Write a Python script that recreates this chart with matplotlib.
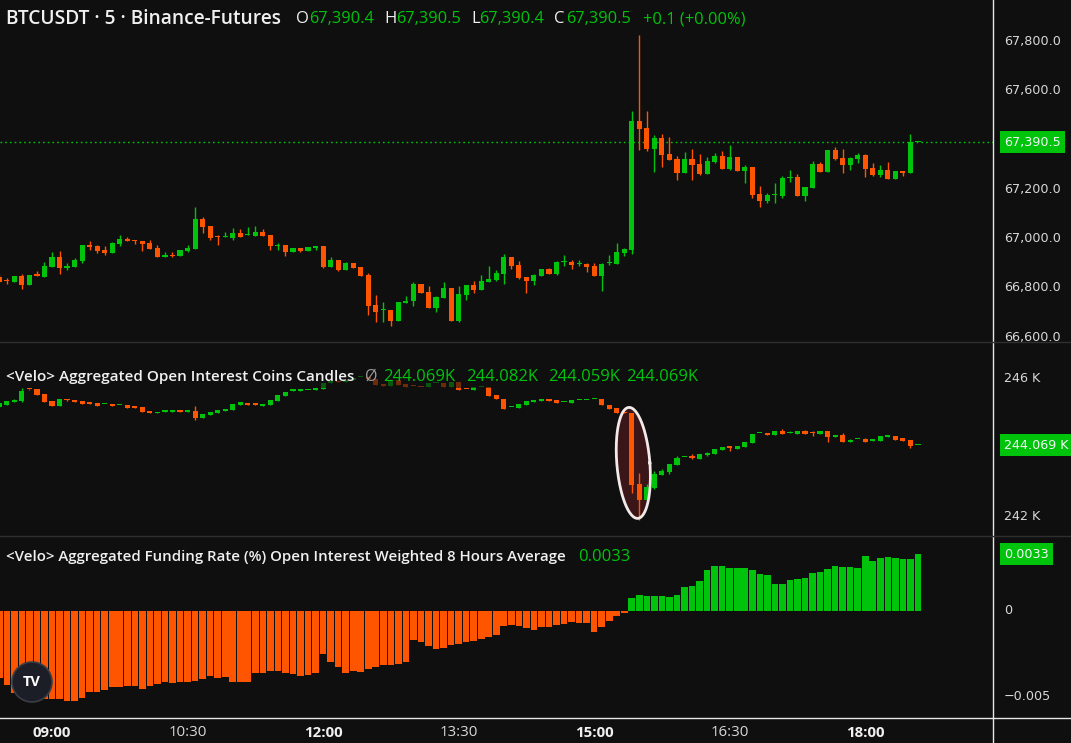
import matplotlib
matplotlib.use('Agg')
import matplotlib.pyplot as plt
import matplotlib.transforms as mtransforms
from matplotlib.patches import Rectangle, Ellipse, Polygon
from matplotlib.lines import Line2D
import numpy as np

# 5-minute bars, first bar at 08:25
bar_start = "08:25"

price_open = [66842, 66831, 66824, 66847, 66812, 66851, 66845, 66885, 66924, 66881, 66885, 66910, 66973, 66969,
              66953, 66942, 66978, 66997, 66993, 66989, 66981, 66961, 66926, 66931, 66930, 66950, 66958, 67078,
              67050, 67007, 67004, 67003, 67022, 67012, 67010, 67026, 67014, 66970, 66973, 66945, 66961, 66950,
              66962, 66969, 66885, 66912, 66873, 66900, 66884, 66851, 66730, 66708, 66709, 66666, 66739, 66746,
              66815, 66782, 66719, 66760, 66799, 66666, 66770, 66811, 66791, 66823, 66831, 66855, 66924, 66892,
              66843, 66827, 66847, 66876, 66855, 66903, 66904, 66895, 66896, 66888, 66847, 66899, 66896, 66941,
              66953, 67476, 67447, 67362, 67407, 67342, 67322, 67265, 67322, 67301, 67261, 67309, 67334, 67281,
              67330, 67273, 67289, 67180, 67151, 67175, 67172, 67244, 67249, 67172, 67204, 67301, 67269, 67358,
              67326, 67297, 67322, 67338, 67285, 67257, 67277, 67241, 67273, 67265, 67390.4]
price_high = [66851, 66839, 66847, 66855, 66851, 66868, 66904, 66945, 66949, 66899, 66920, 66973, 66989, 66973,
              66969, 66985, 67014, 67005, 66993, 66989, 66993, 66973, 66945, 66945, 66953, 66973, 67127, 67087,
              67050, 67014, 67027, 67042, 67038, 67046, 67050, 67038, 67014, 66981, 66973, 66961, 66961, 66965,
              66969, 66969, 66924, 66912, 66904, 66900, 66884, 66859, 66770, 66742, 66709, 66742, 66766, 66823,
              66815, 66807, 66766, 66823, 66799, 66807, 66811, 66827, 66851, 66888, 66872, 66936, 66924, 66908,
              66843, 66855, 66876, 66880, 66908, 66932, 66912, 66912, 66900, 66900, 66900, 66932, 66981, 66961,
              67516, 67824, 67516, 67419, 67423, 67411, 67334, 67350, 67362, 67342, 67330, 67346, 67354, 67378,
              67330, 67297, 67289, 67212, 67184, 67224, 67253, 67277, 67261, 67208, 67314, 67309, 67358, 67370,
              67362, 67330, 67346, 67342, 67305, 67297, 67309, 67273, 67273, 67423, 67390.5]
price_low = [66824, 66815, 66824, 66796, 66812, 66848, 66845, 66885, 66857, 66873, 66885, 66902, 66953, 66942,
             66931, 66942, 66970, 66990, 66978, 66950, 66958, 66926, 66926, 66926, 66930, 66945, 66958, 67022,
             66995, 66974, 67004, 66995, 67007, 67012, 67010, 67010, 66954, 66954, 66929, 66945, 66945, 66950,
             66954, 66881, 66885, 66869, 66873, 66881, 66849, 66690, 66662, 66662, 66646, 66666, 66739, 66726,
             66780, 66719, 66703, 66760, 66666, 66662, 66750, 66778, 66791, 66823, 66827, 66815, 66876, 66835,
             66778, 66811, 66847, 66855, 66851, 66888, 66876, 66888, 66864, 66847, 66786, 66892, 66896, 66929,
             66937, 67358, 67354, 67269, 67289, 67318, 67236, 67265, 67236, 67257, 67261, 67305, 67281, 67277,
             67273, 67224, 67164, 67127, 67143, 67143, 67164, 67228, 67172, 67151, 67204, 67269, 67269, 67318,
             67265, 67277, 67305, 67249, 67253, 67249, 67241, 67241, 67253, 67265, 67390.4]
price_close = [66824, 66828, 66847, 66812, 66851, 66849, 66888, 66924, 66881, 66888, 66912, 66973, 66965, 66950,
               66942, 66981, 66997, 66990, 66990, 66978, 66958, 66926, 66932, 66928, 66953, 66962, 67078, 67047,
               67003, 67005, 67006, 67022, 67007, 67014, 67026, 67010, 66967, 66971, 66945, 66961, 66950, 66965,
               66969, 66885, 66912, 66873, 66900, 66881, 66849, 66726, 66703, 66710, 66666, 66742, 66746, 66815,
               66780, 66719, 66762, 66799, 66666, 66774, 66811, 66791, 66827, 66835, 66859, 66924, 66888, 66839,
               66827, 66851, 66876, 66855, 66904, 66905, 66892, 66897, 66884, 66847, 66896, 66901, 66945, 66957,
               67476, 67443, 67362, 67407, 67338, 67318, 67265, 67322, 67297, 67261, 67314, 67334, 67281, 67330,
               67273, 67289, 67176, 67151, 67176, 67177, 67245, 67246, 67172, 67208, 67301, 67269, 67358, 67322,
               67297, 67326, 67338, 67281, 67257, 67277, 67241, 67273, 67265, 67390.4, 67390.5]

oi_open = [245.17, 245.25, 245.34, 245.37, 245.71, 245.71, 245.56, 245.36, 245.22, 245.41, 245.39, 245.36, 245.31,
           245.30, 245.26, 245.28, 245.24, 245.25, 245.19, 245.19, 245.07, 245.01, 245.05, 245.05, 245.06, 245.05,
           245.06, 244.87, 244.96, 245.02, 245.07, 245.10, 245.25, 245.31, 245.27, 245.22, 245.25, 245.37, 245.51,
           245.66, 245.66, 245.68, 245.69, 245.70, 245.89, 245.93, 245.90, 245.96, 246.06, 246.07, 245.99, 245.85,
           245.80, 245.97, 245.85, 245.80, 245.78, 245.77, 245.87, 245.89, 245.76, 245.90, 245.71, 245.67, 245.76,
           245.77, 245.53, 245.42, 245.17, 245.16, 245.23, 245.34, 245.36, 245.42, 245.39, 245.33, 245.31, 245.38,
           245.39, 245.41, 245.43, 245.25, 245.16, 245.03, 245.02, 242.93, 242.47, 242.83, 243.20, 243.29, 243.49,
           243.71, 243.71, 243.66, 243.78, 243.81, 243.93, 244.02, 243.96, 244.02, 244.13, 244.41, 244.42, 244.37,
           244.48, 244.42, 244.39, 244.48, 244.43, 244.39, 244.48, 244.31, 244.37, 244.16, 244.24, 244.25, 244.20,
           244.19, 244.32, 244.34, 244.27, 244.22, 244.069]
oi_high = [245.29, 245.36, 245.43, 245.74, 245.72, 245.71, 245.56, 245.36, 245.42, 245.41, 245.39, 245.36, 245.31,
           245.30, 245.27, 245.28, 245.25, 245.25, 245.19, 245.19, 245.07, 245.03, 245.06, 245.06, 245.06, 245.06,
           245.22, 244.99, 245.05, 245.10, 245.13, 245.28, 245.32, 245.31, 245.27, 245.28, 245.40, 245.54, 245.63,
           245.67, 245.67, 245.69, 245.70, 245.89, 245.93, 245.93, 245.96, 246.04, 246.07, 246.07, 245.99, 245.85,
           245.97, 245.97, 245.85, 245.80, 245.78, 245.87, 245.88, 245.89, 245.90, 245.90, 245.71, 245.76, 245.77,
           245.77, 245.53, 245.42, 245.18, 245.27, 245.36, 245.39, 245.41, 245.42, 245.39, 245.34, 245.39, 245.39,
           245.40, 245.42, 245.43, 245.25, 245.16, 245.03, 245.02, 243.26, 242.93, 243.31, 243.37, 243.52, 243.75,
           243.72, 243.81, 243.81, 243.88, 243.96, 244.02, 244.02, 244.04, 244.16, 244.39, 244.42, 244.42, 244.48,
           244.54, 244.48, 244.48, 244.51, 244.48, 244.48, 244.48, 244.37, 244.42, 244.25, 244.25, 244.28, 244.21,
           244.34, 244.33, 244.34, 244.27, 244.22, 244.082]
oi_low = [245.17, 245.25, 245.34, 245.34, 245.69, 245.54, 245.34, 245.22, 245.22, 245.36, 245.33, 245.28, 245.28,
          245.22, 245.26, 245.22, 245.24, 245.16, 245.16, 245.05, 245.02, 245.01, 245.05, 245.05, 245.05, 245.05,
          244.81, 244.87, 244.96, 245.02, 245.07, 245.10, 245.25, 245.25, 245.25, 245.22, 245.25, 245.37, 245.51,
          245.66, 245.66, 245.68, 245.69, 245.70, 245.89, 245.90, 245.90, 245.96, 246.06, 246.00, 245.83, 245.80,
          245.80, 245.83, 245.76, 245.79, 245.77, 245.77, 245.87, 245.76, 245.76, 245.68, 245.70, 245.67, 245.76,
          245.51, 245.41, 245.13, 245.17, 245.16, 245.23, 245.34, 245.36, 245.37, 245.31, 245.33, 245.31, 245.38,
          245.39, 245.41, 245.23, 245.13, 245.01, 245.00, 242.68, 241.88, 242.47, 242.80, 243.20, 243.24, 243.49,
          243.71, 243.66, 243.66, 243.75, 243.81, 243.93, 243.90, 243.96, 244.02, 244.13, 244.41, 244.37, 244.37,
          244.39, 244.42, 244.39, 244.39, 244.34, 244.39, 244.16, 244.31, 244.16, 244.16, 244.24, 244.16, 244.20,
          244.19, 244.32, 244.22, 244.19, 243.99, 244.059]
oi_close = [245.29, 245.36, 245.40, 245.66, 245.70, 245.54, 245.34, 245.22, 245.42, 245.39, 245.33, 245.28, 245.28,
            245.22, 245.27, 245.22, 245.25, 245.16, 245.16, 245.05, 245.02, 245.03, 245.06, 245.06, 245.05, 245.06,
            244.87, 244.99, 245.05, 245.10, 245.13, 245.28, 245.32, 245.25, 245.25, 245.28, 245.40, 245.54, 245.63,
            245.67, 245.67, 245.69, 245.70, 245.89, 245.93, 245.90, 245.96, 246.04, 246.07, 246.00, 245.83, 245.80,
            245.97, 245.83, 245.76, 245.79, 245.77, 245.87, 245.88, 245.76, 245.90, 245.68, 245.70, 245.76, 245.77,
            245.51, 245.41, 245.13, 245.18, 245.27, 245.36, 245.39, 245.41, 245.37, 245.31, 245.34, 245.39, 245.39,
            245.40, 245.42, 245.23, 245.13, 245.01, 245.00, 242.91, 242.47, 242.84, 243.23, 243.31, 243.52, 243.69,
            243.72, 243.70, 243.81, 243.85, 243.96, 244.02, 243.99, 244.04, 244.16, 244.39, 244.42, 244.37, 244.48,
            244.39, 244.43, 244.48, 244.39, 244.42, 244.48, 244.31, 244.37, 244.16, 244.22, 244.25, 244.16, 244.21,
            244.34, 244.33, 244.22, 244.19, 244.04, 244.069]

funding = [-0.00391, -0.00430, -0.00475, -0.00488, -0.00503, -0.00513, -0.00513, -0.00513, -0.00513, -0.00522,
           -0.00522, -0.00504, -0.00471, -0.00471, -0.00459, -0.00440, -0.00440, -0.00434, -0.00434, -0.00452,
           -0.00434, -0.00426, -0.00415, -0.00419, -0.00411, -0.00415, -0.00407, -0.00397, -0.00376, -0.00388,
           -0.00386, -0.00411, -0.00411, -0.00415, -0.00359, -0.00359, -0.00347, -0.00347, -0.00359, -0.00365,
           -0.00376, -0.00370, -0.00359, -0.00248, -0.00295, -0.00324, -0.00359, -0.00347, -0.00353, -0.00336,
           -0.00324, -0.00312, -0.00312, -0.00306, -0.00295, -0.00167, -0.00179, -0.00202, -0.00219, -0.00213,
           -0.00196, -0.00190, -0.00179, -0.00173, -0.00161, -0.00149, -0.00138, -0.00086, -0.00080, -0.00086,
           -0.00097, -0.00109, -0.00091, -0.00091, -0.00080, -0.00074, -0.00062, -0.00068, -0.00068, -0.00120,
           -0.00091, -0.00056, -0.00027, -0.00012, 0.00076, 0.00093, 0.00087, 0.00087, 0.00087, 0.00081,
           0.00093, 0.00140, 0.00145, 0.00174, 0.00238, 0.00262, 0.00262, 0.00250, 0.00250, 0.00250,
           0.00238, 0.00215, 0.00209, 0.00157, 0.00157, 0.00180, 0.00186, 0.00192, 0.00221, 0.00227,
           0.00244, 0.00262, 0.00256, 0.00256, 0.00250, 0.00320, 0.00291, 0.00308, 0.00314, 0.00308,
           0.00302, 0.00302, 0.0033]

time_ticks = ["09:00", "10:30", "12:00", "13:30", "15:00", "16:30", "18:00"]
price_ticks = [66600, 66800, 67000, 67200, 67400, 67600, 67800]
oi_ticks = [242, 246]
funding_ticks = [0, -0.005]

BG = '#0f0f0f'
GREEN = '#00c40c'
ORANGE = '#ff5500'
TXT = '#d8d8d8'
FONT = 'Open Sans'
W, H = 1071, 743

fig = plt.figure(figsize=(W / 100, H / 100), dpi=100, facecolor=BG)


def fx(x):
    return x / W


def fy(y):
    return 1 - y / H


def add_ax(top, bottom):
    ax = fig.add_axes([0, fy(bottom), fx(993), (bottom - top) / H])
    ax.set_facecolor(BG)
    for s in ax.spines.values():
        s.set_visible(False)
    ax.set_xticks([])
    ax.set_yticks([])
    return ax


n = len(price_open)
xs = np.arange(n)
x0 = 7  # index of the 09:00 bar
step_px = 7.53
xlim = (x0 - 52 / step_px, x0 + (993 - 52) / step_px)


def candles(ax, o, h, l, c, min_h):
    o, h, l, c = map(np.asarray, (o, h, l, c))
    up = c >= o
    cols = np.where(up, GREEN, ORANGE)
    bottoms = np.minimum(o, c)
    heights = np.maximum(np.abs(c - o), min_h)
    ax.vlines(xs, l, h, colors=cols, lw=1, zorder=2)
    ax.bar(xs, heights, 0.68, bottom=bottoms, color=cols, linewidth=0, zorder=3)


# ---- price pane
ax1 = add_ax(0, 342)
ax1.set_xlim(*xlim)
ax1.set_ylim(67800 - 4.054 * (342 - 41), 67800 + 4.054 * 41)
candles(ax1, price_open, price_high, price_low, price_close, 5)
ax1.axhline(price_close[-1], color=GREEN, lw=1, ls=(0, (1.2, 2.2)), zorder=1)

# ---- open interest pane
ax2 = add_ax(342, 536)
ax2.set_xlim(*xlim)
ax2.set_ylim(246 - (536 - 379) / 34.25, 246 + (379 - 342) / 34.25)

# highlight ellipse round the OI drop
cx, cy, a, b = 84.2, 243.55, 2.2, 1.62
t = np.linspace(0, 2 * np.pi, 200)
ex = cx + a * np.cos(t) - 0.55 * np.sin(t)
ey = cy + b * np.sin(t)
ax2.add_patch(Polygon(np.column_stack([ex, ey]), closed=True, fc='#3a1619', ec='none', zorder=1))
ax2.plot(ex, ey, color='#f2e9e9', lw=2, zorder=4)
candles(ax2, oi_open, oi_high, oi_low, oi_close, 0.04)

# ---- funding pane
ax3 = add_ax(536, 718)
ax3.set_xlim(*xlim)
ax3.set_ylim(-(718 - 611) / 17200, (611 - 536) / 17200)
fund = np.asarray(funding)
ax3.bar(xs, fund, 0.88, color=np.where(fund >= 0, GREEN, ORANGE), linewidth=0, zorder=2)

# ---- separators
fig.add_artist(Line2D([fx(993), fx(993)], [0, 1], color='#e6e6e6', lw=1))
fig.add_artist(Line2D([0, 1], [fy(342), fy(342)], color='#2f2f2f', lw=1))
fig.add_artist(Line2D([0, 1], [fy(536), fy(536)], color='#2f2f2f', lw=1))
fig.add_artist(Line2D([0, 1], [fy(718), fy(718)], color='#e6e6e6', lw=1))

# dim box behind OI legend
fig.add_artist(Rectangle((0, fy(388)), fx(712), 21 / H, transform=fig.transFigure,
                         fc=BG, ec='none', alpha=0.6, zorder=1))

# ---- right scale labels
lab_font = dict(family='DejaVu Sans', fontsize=9.2, color=TXT, va='center', ha='left')
for ax, ticks, fmt in [(ax1, price_ticks, lambda v: f"{v:,.1f}"),
                       (ax2, oi_ticks, lambda v: f"{v:g} K"),
                       (ax3, funding_ticks, lambda v: "0" if v == 0 else f"\u2212{abs(v):g}")]:
    tr = mtransforms.blended_transform_factory(ax.transAxes, ax.transData)
    for v in ticks:
        if ax is ax1 and v == 67400:
            continue
        ax.text(1004 / 993, v, fmt(v), transform=tr, clip_on=False, **lab_font)

box = dict(boxstyle='square,pad=0.35', fc=GREEN, ec='none')
for ax, v, s in [(ax1, price_close[-1], "67,390.5"), (ax2, oi_close[-1], "244.069 K"),
                 (ax3, funding[-1], "0.0033")]:
    tr = mtransforms.blended_transform_factory(ax.transAxes, ax.transData)
    ax.text(1004 / 993, v, s, transform=tr, clip_on=False, bbox=box,
            **dict(lab_font, color='#f4f4f4'))

# ---- time axis
for i, lab in enumerate(time_ticks):
    xi = x0 + i * 18
    xp = 52 + (xi - x0) * step_px
    fig.text(fx(xp), fy(733), lab, ha='center', va='center', color='#f0f0f0' if i % 2 == 0 else TXT,
             fontsize=10.8, family=FONT, weight='bold' if i % 2 == 0 else 'normal')


# ---- legends
def T(x, y, s, color='#f0f0f0', size=9.6, weight='normal'):
    fig.text(fx(x), fy(y), s, ha='left', va='center', color=color, fontsize=size,
             family=FONT, weight=weight, zorder=5)


T(6, 19, "BTCUSDT \u00b7 5 \u00b7 Binance-Futures", size=13.8, weight='semibold')
for xl, l, xv, v in [(296, "O", 309, "67,390.4"), (384, "H", 396, "67,390.5"),
                     (471, "L", 479, "67,390.4"), (554, "C", 566, "67,390.5")]:
    T(xl, 19, l, size=12)
    T(xv, 19, v, color=GREEN, size=11.8)
T(643, 19, "+0.1 (+0.00%)", color=GREEN, size=11.8)

T(6, 377, "<Velo> Aggregated Open Interest Coins Candles", size=11, weight='semibold')
T(365, 377, "\u00d8", color='#9a9a9a', size=11.5)
for xv, v in [(383, "244.069K"), (466, "244.082K"), (548, "244.059K"), (626, "244.069K")]:
    T(xv, 377, v, color=GREEN, size=12)

T(6, 557, "<Velo> Aggregated Funding Rate (%) Open Interest Weighted 8 Hours Average", size=10.8,
  weight='semibold')
T(578, 557, "0.0033", color=GREEN, size=12)

# ---- logo
fig.add_artist(Ellipse((fx(32), fy(682)), 40 / W, 40 / H, transform=fig.transFigure,
                       fc='#1b1e27', ec='#3a3d46', lw=1.2, zorder=4))
fig.text(fx(32), fy(682), "TV", ha='center', va='center', color='white', fontsize=10.5,
         family=FONT, weight='bold', zorder=6)

fig.savefig('out.png', dpi=100, facecolor=BG)
